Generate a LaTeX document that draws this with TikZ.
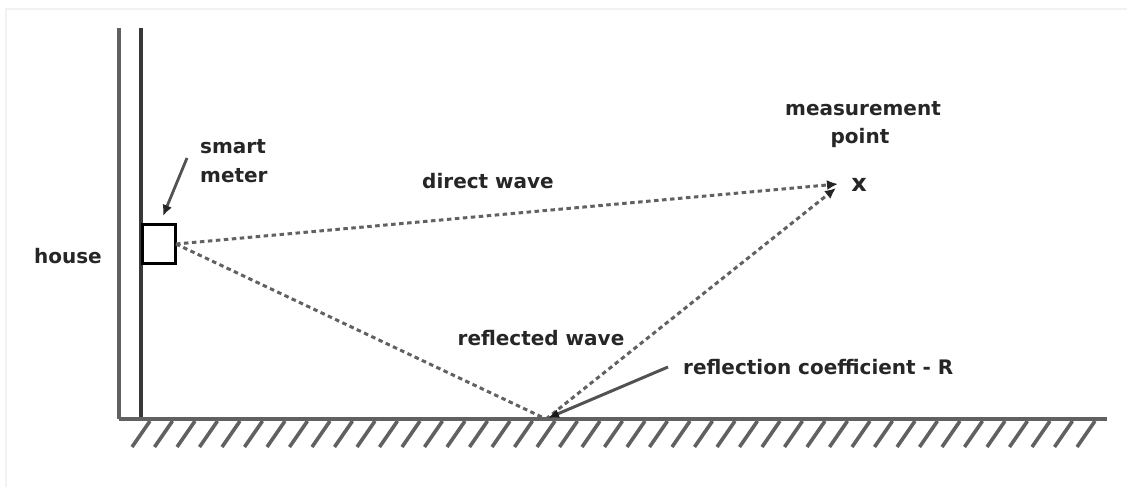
\documentclass[tikz,border=0pt]{standalone}
\usepackage{fontspec}
\setmainfont{DejaVu Sans}
\usetikzlibrary{arrows.meta}
\begin{document}
\begin{tikzpicture}[x=1pt,y=-1pt,
  lbl/.style={font=\bfseries\fontsize{20}{29}\selectfont, text=black!85, inner sep=0pt},
  wave/.style={draw=black!62, line width=3pt, dash pattern=on 4.5pt off 3.5pt},
  tip/.style={-{Latex[length=11pt,width=10pt,black!85]}},
  solidline/.style={draw=black!68, line width=3pt},
  hatch/.style={draw=black!62, line width=3.6pt}]
\useasboundingbox (0,0) rectangle (1127,487);
% faint frame
\draw[black!5, line width=1.5pt] (6,487) -- (6,9) -- (1127,9);
% walls
\coordinate (wlt) at (119,28);
\coordinate (wlb) at (119,419);
\coordinate (wrt) at (141,28);
\coordinate (wrb) at (141,419);
\coordinate (gend) at (1107,419);
\draw[draw=black!62, line width=3.2pt] (wlt) -- (wlb);
\draw[draw=black!78, line width=3.2pt] (wrt) -- (wrb);
\draw[draw=black!62, line width=3.2pt] (wlb) -- (gend);
% hatches
\foreach \i in {0,...,42} {
  \draw[hatch] ({150+22.5*\i},421) -- ({132+22.5*\i},447);
}
% box
\node[draw=black, line width=3.2pt, minimum width=33pt, minimum height=39pt, inner sep=0pt, fill=white, anchor=north west] (box) at (141,223) {};
% coordinates
\coordinate (refl) at (546,419);
\coordinate (mp) at (838,184);
\coordinate (mp2) at (836,188);
\coordinate (boxout) at (176,244);
% labels
\node[lbl, anchor=base west] (smart) at (200,153) {smart};
\node[lbl, anchor=base west] (meter) at (200,182) {meter};
\node[lbl, anchor=base east] (house) at (102,263) {house};
\node[lbl, anchor=base] (meas) at (863,115) {measurement};
\node[lbl, anchor=base] (point) at (860,143) {point};
\node[lbl, anchor=base, font=\bfseries\fontsize{24}{24}\selectfont] (x) at (859,191) {x};
\node[lbl, anchor=base] (direct) at (488,188) {direct wave};
\node[lbl, anchor=base] (reflw) at (541,345) {reflected wave};
\node[lbl, anchor=base west] (rc) at (683,374) {reflection coefficient - R};
% smart meter arrow
\coordinate (smA) at (187,158);
\coordinate (smB) at (163,216);
\draw[solidline, line width=2.8pt, tip] (smA) -- (smB);
% waves
\draw[wave, tip] (boxout) -- (mp);
\draw[wave] (boxout) -- (refl);
\draw[wave, tip] (refl) -- (mp2);
% reflection coefficient pointer
\coordinate (rcA) at (668,367);
\draw[solidline, -{Latex[length=11pt,width=9pt,black!90]}] (rcA) -- (548,418);
\end{tikzpicture}
\end{document}
